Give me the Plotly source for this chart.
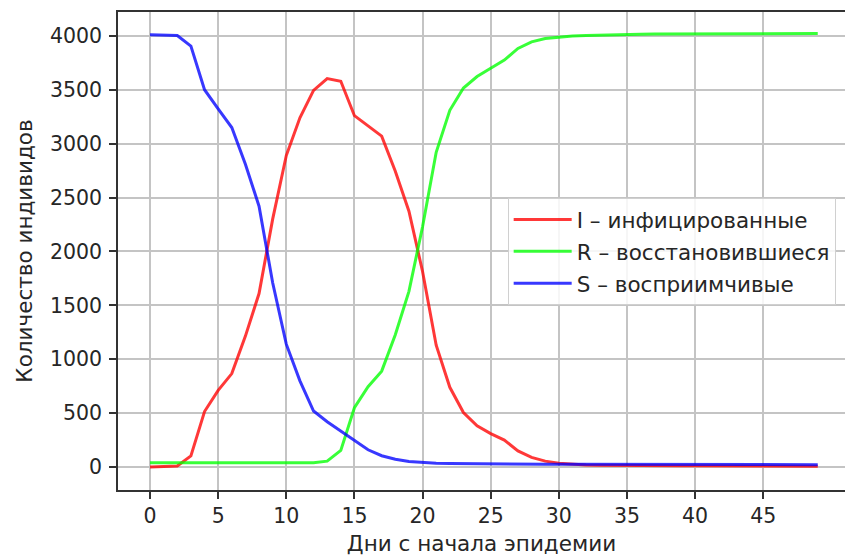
import plotly.graph_objects as go

days = list(range(50))

infected = [0, 3, 10, 103, 515, 711, 867, 1215, 1610, 2300,
            2890, 3240, 3495, 3605, 3580, 3260, 3165, 3070, 2745, 2373,
            1814, 1130, 740, 506, 382, 310, 250, 150, 90, 55,
            36, 26, 20, 17, 15, 14, 13, 12, 12, 11,
            11, 10, 10, 10, 9, 9, 9, 8, 8, 8]

recovered = [40, 40, 40, 40, 40, 40, 40, 40, 40, 40,
             40, 40, 40, 55, 155, 550, 745, 890, 1227, 1630,
             2230, 2920, 3310, 3516, 3623, 3700, 3776, 3884, 3945, 3976,
             3991, 3999, 4004, 4008, 4011, 4014, 4016, 4017, 4018, 4019,
             4020, 4020, 4021, 4021, 4022, 4022, 4022, 4023, 4023, 4023]

susceptible = [4012, 4010, 4003, 3905, 3501, 3324, 3150, 2810, 2420, 1710,
               1140, 800, 520, 420, 335, 245, 160, 105, 72, 52,
               42, 36, 33, 31, 30, 29, 28, 27, 27, 26,
               26, 26, 25, 25, 25, 24, 24, 24, 24, 23,
               23, 23, 23, 23, 22, 22, 22, 22, 22, 22]

labels = ["I – инфицированные", "R – восстановившиеся", "S – восприимчивые"]
colors = ["rgba(255,0,0,0.78)", "rgba(0,255,0,0.78)", "rgba(0,0,255,0.78)"]
x_ticks = list(range(0, 50, 5))
y_ticks = list(range(0, 4001, 500))

fig = go.Figure()
for i, (ys, name, c) in enumerate(zip([infected, recovered, susceptible], labels, colors)):
    fig.add_trace(go.Scatter(x=days, y=ys, mode="lines", name=name,
                             legendgroup=f"g{i}",
                             line=dict(color=c, width=3)))

FAM = "DejaVu Sans"
font = dict(family=FAM, size=20, color="#262626")

fig.update_layout(
    width=845, height=558,
    margin=dict(l=118, r=0, t=12, b=68),
    paper_bgcolor="white", plot_bgcolor="white",
    font=font,
    showlegend=True,
    legend=dict(x=0.536, y=0.611, xanchor="left", yanchor="top",
                bgcolor="rgba(255,255,255,0.85)", bordercolor="#d0d0d0",
                borderwidth=1, itemwidth=58, tracegroupgap=1,
                font=dict(family=FAM, size=21.5, color="#262626")),
)
fig.update_xaxes(range=[-2.35, 51.0], tickvals=x_ticks, ticks="outside",
                 ticklen=7, tickwidth=1.5, tickcolor="#333",
                 tickfont=dict(family=FAM, size=20.5, color="#262626"),
                 showline=True, linecolor="#333", linewidth=1.6, mirror=True,
                 showgrid=True, gridcolor="#c4c4c4", gridwidth=1.5, zeroline=False,
                 title=dict(text="Дни с начала эпидемии", standoff=9,
                            font=dict(family=FAM, size=21.5, color="#262626")))
fig.update_yaxes(range=[-213, 4222], tickvals=y_ticks, ticks="outside",
                 ticklen=7, tickwidth=1.5, tickcolor="#333",
                 tickfont=dict(family=FAM, size=20.5, color="#262626"),
                 ticklabelstandoff=3,
                 showline=True, linecolor="#333", linewidth=1.6,
                 showgrid=True, gridcolor="#c4c4c4", gridwidth=1.5, zeroline=False,
                 title=dict(text="Количество индивидов", standoff=11,
                            font=dict(family=FAM, size=21.5, color="#262626")))

fig.write_html("out.html")
